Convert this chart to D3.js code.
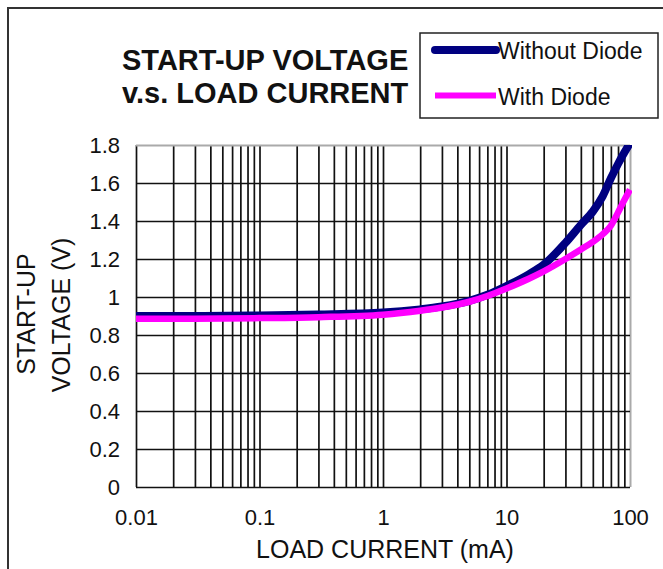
<!DOCTYPE html>
<html>
<head>
<meta charset="utf-8">
<script src="https://cdn.jsdelivr.net/npm/d3@7"></script>
<style>
    body { margin: 0; background: #fff; }
    text { font-family: "Liberation Sans", Arial, sans-serif; fill: #111; }
</style>
</head>
<body>
<script>
/*
    Values. Load current in mA,
    start-up voltage in V for the two curves.
*/
var currents     = [0.01, 0.03, 0.1, 0.3, 1, 2, 3, 5, 7, 10, 15, 20, 30, 40, 50, 60, 70, 80, 90, 100];
var withoutDiode = [0.9, 0.9, 0.903, 0.908, 0.918, 0.935, 0.95, 0.98, 1.012, 1.058, 1.118, 1.17, 1.285, 1.38, 1.45, 1.53, 1.625, 1.70, 1.76, 1.81];
var withDiode    = [0.885, 0.886, 0.889, 0.894, 0.907, 0.928, 0.945, 0.975, 1.005, 1.045, 1.095, 1.135, 1.2, 1.25, 1.29, 1.33, 1.375, 1.445, 1.51, 1.565];
var yTicks       = [0, 0.2, 0.4, 0.6, 0.8, 1, 1.2, 1.4, 1.6, 1.8];
var xTickLabels  = ["0.01", "0.1", "1", "10", "100"];
var seriesNames  = ["Without Diode", "With Diode"];

var w = 663;
var h = 569;
// plot rectangle (note: "top" is taken by window.top, so prefixed names)
var plotL = 136, plotR = 630, plotT = 145, plotB = 487;

var xScale = d3.scaleLog()
    .domain([0.01, 100])
    .range([plotL, plotR]);

var yScale = d3.scaleLinear()
    .domain([0, 1.8])
    .range([plotB, plotT]);

var svg = d3.select("body")
    .append("svg")
    .attr("width", w)
    .attr("height", h);

// outer frame, runs off the right and bottom edge like the scan
svg.append("rect")
    .attr("x", 8)
    .attr("y", 8)
    .attr("width", 700)
    .attr("height", 620)
    .attr("fill", "none")
    .attr("stroke", "#333")
    .attr("stroke-width", 2);

/*
    Grid via the axes: ticks stretched across the plot.
*/
var xAxis = d3.axisBottom(xScale)
    .tickValues(xScale.ticks())
    .tickSize(-(plotB - plotT))
    .tickPadding(22)
    .tickFormat(function(d){
        var p = Math.log10(d);
        return Math.abs(p - Math.round(p)) < 1e-6 ? xTickLabels[Math.round(p) + 2] : "";
    });

var yAxis = d3.axisLeft(yScale)
    .tickValues(yTicks)
    .tickSize(-(plotR - plotL))
    .tickPadding(16)
    .tickFormat(d3.format(""));

var gx = svg.append("g")
    .attr("transform", "translate(0," + plotB + ")")
    .call(xAxis);

var gy = svg.append("g")
    .attr("transform", "translate(" + plotL + ",0)")
    .call(yAxis);

gx.select(".domain").remove();
gy.select(".domain").remove();

gx.selectAll(".tick line")
    .attr("stroke", function(d){ return d >= 100 ? "#aaa" : "#111"; })
    .attr("stroke-width", function(d){ return d >= 100 ? 2 : 1.7; });
gy.selectAll(".tick line")
    .attr("stroke", function(d){ return d >= 1.8 ? "#aaa" : "#111"; })
    .attr("stroke-width", function(d){ return d >= 1.8 ? 2 : 1.7; });

gx.selectAll(".tick text")
    .style("font-size", "22px")
    .style("font-family", "'Liberation Sans', Arial, sans-serif")
    .attr("fill", "#111");
gy.selectAll(".tick text")
    .style("font-size", "22px")
    .style("font-family", "'Liberation Sans', Arial, sans-serif")
    .attr("fill", "#111");

/*
    Curves, clipped to the plot rectangle.
*/
svg.append("clipPath")
    .attr("id", "plotclip")
    .append("rect")
    .attr("x", plotL)
    .attr("y", plotT)
    .attr("width", plotR - plotL + 2)
    .attr("height", plotB - plotT);

var line = d3.line()
    .x(function(d){ return xScale(d[0]); })
    .y(function(d){ return yScale(d[1]); })
    .curve(d3.curveMonotoneX);

var series = [
    { name: seriesNames[0], values: withoutDiode, color: "#000080", width: 8 },
    { name: seriesNames[1], values: withDiode, color: "#ff00ff", width: 6.5 }
];

svg.append("g")
    .attr("clip-path", "url(#plotclip)")
    .selectAll("path")
    .data(series)
    .enter()
    .append("path")
    .attr("d", function(s){
        return line(currents.map(function(c, i){ return [c, s.values[i]]; }));
    })
    .attr("fill", "none")
    .attr("stroke", function(s){ return s.color; })
    .attr("stroke-width", function(s){ return s.width; })
    .attr("stroke-linejoin", "round");

/*
    Title, legend and axis titles.
*/
svg.append("text")
    .attr("x", 122)
    .attr("y", 69.5)
    .style("font-size", "29px")
    .style("font-weight", "bold")
    .text("START-UP VOLTAGE");

svg.append("text")
    .attr("x", 122)
    .attr("y", 103)
    .style("font-size", "29px")
    .style("font-weight", "bold")
    .text("v.s. LOAD CURRENT");

var legend = svg.append("g");

legend.append("rect")
    .attr("x", 420)
    .attr("y", 33)
    .attr("width", 238)
    .attr("height", 85)
    .attr("fill", "#fff")
    .attr("stroke", "#222")
    .attr("stroke-width", 1.5);

legend.selectAll("line")
    .data(series)
    .enter()
    .append("line")
    .attr("x1", 435)
    .attr("x2", 496)
    .attr("y1", function(s, i){ return 50 + i * 45.5; })
    .attr("y2", function(s, i){ return 50 + i * 45.5; })
    .attr("stroke", function(s){ return s.color; })
    .attr("stroke-width", function(s, i){ return i == 0 ? 8 : 6; })
    .attr("stroke-linecap", function(s, i){ return i == 0 ? "round" : "butt"; });

legend.selectAll("text")
    .data(series)
    .enter()
    .append("text")
    .attr("x", 498)
    .attr("y", function(s, i){ return 59 + i * 46; })
    .style("font-size", "23px")
    .text(function(s){ return s.name; });

svg.append("text")
    .attr("x", 385)
    .attr("y", 558)
    .attr("text-anchor", "middle")
    .style("font-size", "25px")
    .text("LOAD CURRENT (mA)");

svg.append("text")
    .attr("transform", "translate(35,314) rotate(-90)")
    .attr("text-anchor", "middle")
    .style("font-size", "25px")
    .text("START-UP");

svg.append("text")
    .attr("transform", "translate(70,315) rotate(-90)")
    .attr("text-anchor", "middle")
    .style("font-size", "25px")
    .text("VOLTAGE (V)");
</script>
</body>
</html>
